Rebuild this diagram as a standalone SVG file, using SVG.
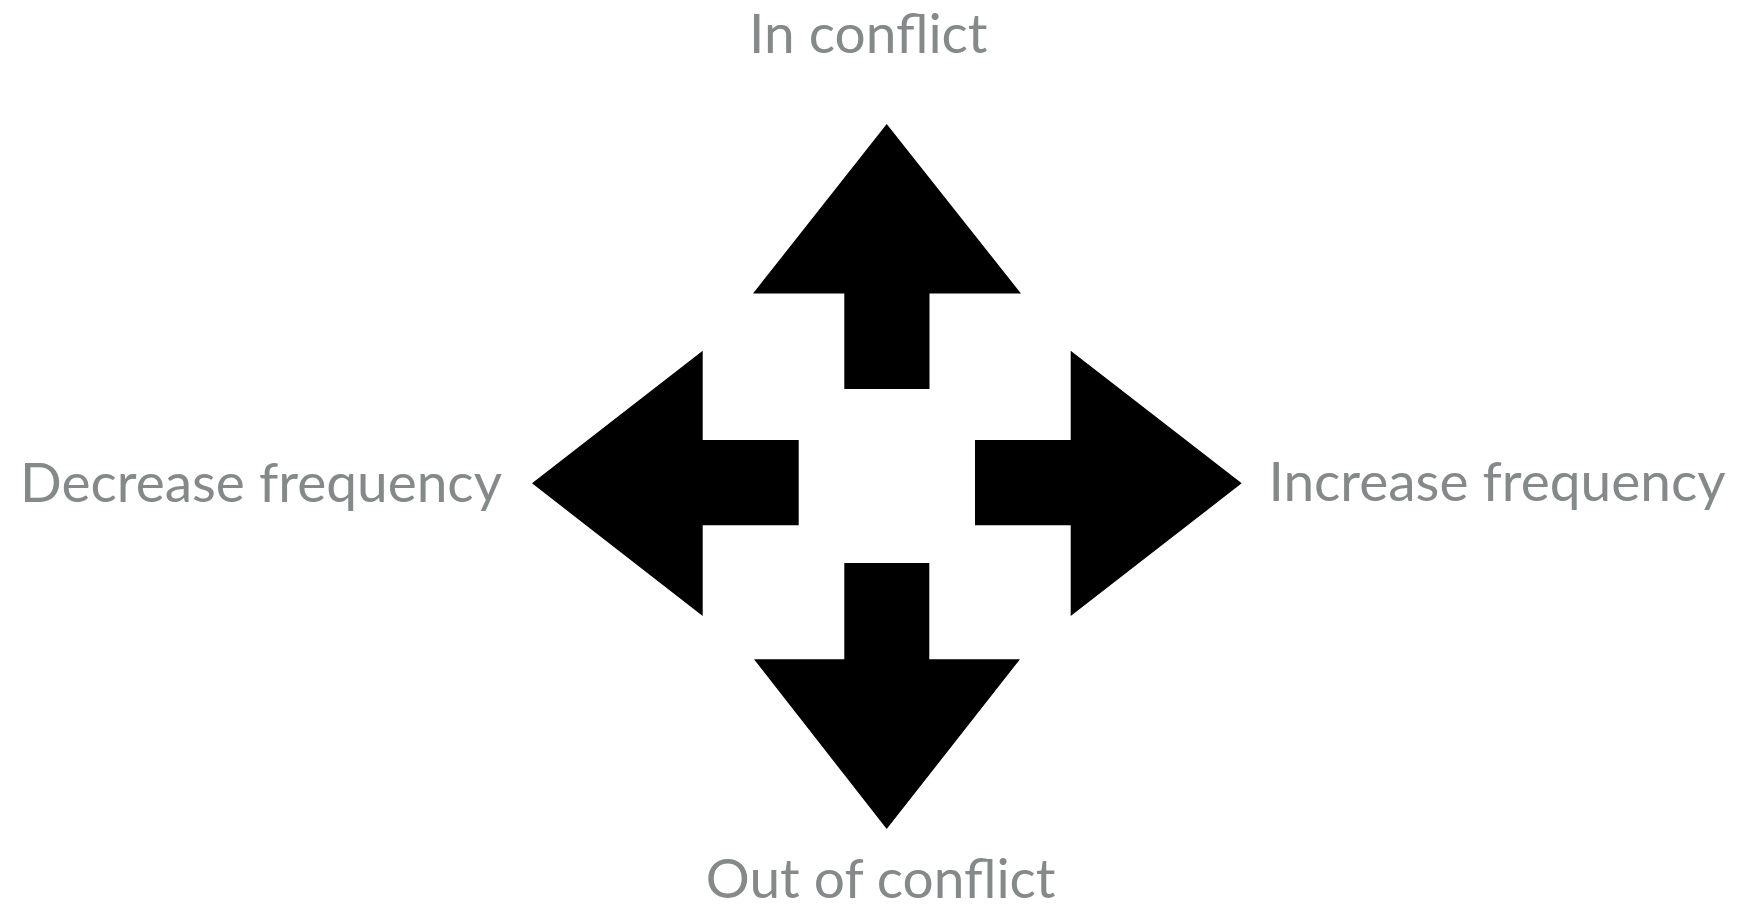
<svg xmlns="http://www.w3.org/2000/svg" width="1740" height="909" viewBox="0 0 1740 909">
<style>
.lbl{font-family:Lato,"Open Sans","Liberation Sans",sans-serif;font-size:55px;fill:#858989;}
.arr{fill:#000;}
</style>
<rect width="1740" height="909" fill="#fff"/>
<g id="arrows">
<path id="up" class="arr" d="M886.7,124 L1021,293.5 L929.5,293.5 L929.5,389 L844.3,389 L844.3,293.5 L753,293.5 Z"/>
<path id="down" class="arr" d="M886.7,829 L1020,659.3 L929.3,659.3 L929.3,563 L844.3,563 L844.3,659.3 L754,659.3 Z"/>
<path id="left" class="arr" d="M532,483.3 L702.7,350.7 L702.7,440 L798.7,440 L798.7,525.3 L702.7,525.3 L702.7,616 Z"/>
<path id="right" class="arr" d="M1241.7,483.3 L1070.7,350.7 L1070.7,440 L975,440 L975,525.3 L1070.7,525.3 L1070.7,616 Z"/>
</g>
<g id="label-top"><text class="lbl" x="868.3" y="53.3" text-anchor="middle">In conflict</text></g>
<g id="label-left"><text class="lbl" x="261" y="502" text-anchor="middle">Decrease frequency</text></g>
<g id="label-right"><text class="lbl" x="1497" y="501" text-anchor="middle">Increase frequency</text></g>
<g id="label-bottom"><text class="lbl" x="880.7" y="898.3" text-anchor="middle">Out of conflict</text></g>
</svg>
